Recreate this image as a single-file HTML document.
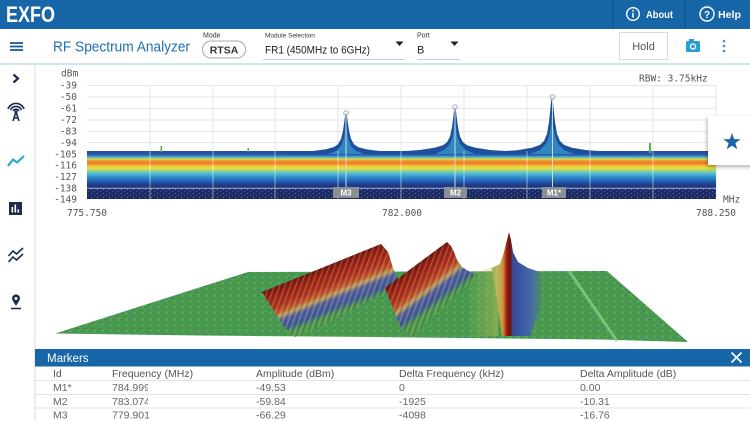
<!DOCTYPE html>
<html><head><meta charset="utf-8"><style>
html,body{margin:0;padding:0;background:#fff;width:750px;height:421px;overflow:hidden}
svg{display:block}
</style></head><body>
<svg width="750" height="421" viewBox="0 0 750 421" xmlns="http://www.w3.org/2000/svg">
<defs>
<linearGradient id="band" x1="0" y1="151" x2="0" y2="199" gradientUnits="userSpaceOnUse">
<stop offset="0" stop-color="#26489a"/>
<stop offset="0.083" stop-color="#2a5db0"/>
<stop offset="0.125" stop-color="#48b0d0"/>
<stop offset="0.167" stop-color="#d8dc48"/>
<stop offset="0.208" stop-color="#f09030"/>
<stop offset="0.26" stop-color="#ee7a22"/>
<stop offset="0.30" stop-color="#f3b838"/>
<stop offset="0.354" stop-color="#e8e048"/>
<stop offset="0.406" stop-color="#a8d868"/>
<stop offset="0.458" stop-color="#58c0d8"/>
<stop offset="0.542" stop-color="#3090d0"/>
<stop offset="0.625" stop-color="#2560b0"/>
<stop offset="0.708" stop-color="#1e3c8c"/>
<stop offset="0.81" stop-color="#1b2c70"/>
<stop offset="1" stop-color="#1c2a5c"/>
</linearGradient>
<pattern id="speck" width="6" height="4" patternUnits="userSpaceOnUse">
<rect x="1" y="1" width="1" height="1" fill="#8fa0c8" opacity=".7"/>
<rect x="4" y="3" width="1" height="1" fill="#5a6fb0" opacity=".8"/>
</pattern>
<pattern id="gr" width="8" height="6" patternUnits="userSpaceOnUse">
<rect width="8" height="6" fill="#4b9d4a"/>
<rect x="1" y="1" width="1.5" height="1.2" fill="#2c6cc4"/>
<rect x="5" y="3.5" width="1.2" height="1.2" fill="#2c6cc4" opacity=".8"/>
<rect x="3" y="4" width="1.5" height="1" fill="#3a8238"/>
<rect x="6" y="0.5" width="1.5" height="1" fill="#6cba5c"/>
</pattern>
<linearGradient id="r3" x1="262" y1="292" x2="280" y2="336.5" gradientUnits="userSpaceOnUse">
<stop offset="0" stop-color="#6e1006"/>
<stop offset="0.12" stop-color="#981a0c"/>
<stop offset="0.38" stop-color="#b4301a"/>
<stop offset="0.52" stop-color="#c45a2a"/>
<stop offset="0.60" stop-color="#c0a060"/>
<stop offset="0.70" stop-color="#5060a0"/>
<stop offset="0.86" stop-color="#3d5a9c"/>
<stop offset="1" stop-color="#4a9a4a"/>
</linearGradient>
<linearGradient id="r2" x1="385" y1="288" x2="411.7" y2="324.2" gradientUnits="userSpaceOnUse">
<stop offset="0" stop-color="#6e1006"/>
<stop offset="0.12" stop-color="#981a0c"/>
<stop offset="0.38" stop-color="#b4301a"/>
<stop offset="0.52" stop-color="#c45a2a"/>
<stop offset="0.60" stop-color="#c0a060"/>
<stop offset="0.70" stop-color="#5060a0"/>
<stop offset="0.86" stop-color="#3d5a9c"/>
<stop offset="1" stop-color="#4a9a4a"/>
</linearGradient>
<linearGradient id="r1" x1="485" y1="0" x2="545" y2="0" gradientUnits="userSpaceOnUse">
<stop offset="0" stop-color="#6aa450"/>
<stop offset="0.20" stop-color="#b8bc60"/>
<stop offset="0.30" stop-color="#d09040"/>
<stop offset="0.36" stop-color="#a02010"/>
<stop offset="0.42" stop-color="#6a1008"/>
<stop offset="0.46" stop-color="#3a4a98"/>
<stop offset="0.62" stop-color="#3a58a8"/>
<stop offset="0.80" stop-color="#4a70a0"/>
<stop offset="1" stop-color="#4a9a4a"/>
</linearGradient>
<linearGradient id="val" x1="465" y1="0" x2="500" y2="0" gradientUnits="userSpaceOnUse">
<stop offset="0" stop-color="#c8c050" stop-opacity="0"/>
<stop offset="1" stop-color="#c8c050" stop-opacity=".5"/>
</linearGradient>
<pattern id="streak" width="5" height="40" patternUnits="userSpaceOnUse" patternTransform="rotate(20)">
<rect x="0" y="0" width="1.2" height="40" fill="#e0c070" opacity=".35"/>
<rect x="2.5" y="0" width="1" height="40" fill="#2a3a80" opacity=".3"/>
</pattern>
<filter id="sh" x="-30%" y="-30%" width="160%" height="160%">
<feDropShadow dx="-1" dy="2" stdDeviation="2" flood-color="#000" flood-opacity=".3"/>
</filter>
<clipPath id="fc"><rect x="100" y="370" width="48" height="40"/></clipPath>
</defs>

<rect width="750" height="421" fill="#fff"/>

<!-- top bar -->
<rect x="0" y="0" width="750" height="29" fill="#1766a8"/>
<text x="6" y="22" font-family="Liberation Sans, sans-serif" font-weight="bold" font-size="22" fill="#fff" textLength="49" lengthAdjust="spacingAndGlyphs">EXFO</text>
<line x1="613" y1="0" x2="613" y2="29" stroke="#0f4d85" stroke-width="1"/>
<line x1="685" y1="0" x2="685" y2="29" stroke="#0f4d85" stroke-width="1"/>
<circle cx="633" cy="14" r="6.3" fill="none" stroke="#fff" stroke-width="1.4"/>
<circle cx="633" cy="10.8" r="0.9" fill="#fff"/>
<line x1="633" y1="12.8" x2="633" y2="17.6" stroke="#fff" stroke-width="1.5"/>
<text x="646" y="18" font-family="Liberation Sans, sans-serif" font-weight="bold" font-size="10.5" fill="#fff" textLength="27" lengthAdjust="spacingAndGlyphs">About</text>
<circle cx="707" cy="14" r="7" fill="none" stroke="#fff" stroke-width="1.4"/>
<text x="707" y="17.8" text-anchor="middle" font-family="Liberation Sans, sans-serif" font-weight="bold" font-size="10" fill="#fff">?</text>
<text x="718" y="18" font-family="Liberation Sans, sans-serif" font-weight="bold" font-size="10.5" fill="#fff" textLength="23" lengthAdjust="spacingAndGlyphs">Help</text>

<!-- toolbar -->
<line x1="0" y1="64" x2="750" y2="64" stroke="#b8d4ea" stroke-width="1.2"/>
<g stroke="#1a5a99" stroke-width="1.8">
<line x1="10" y1="43" x2="23" y2="43"/><line x1="10" y1="46.5" x2="23" y2="46.5"/><line x1="10" y1="50" x2="23" y2="50"/>
</g>
<text x="53" y="51.5" font-family="Liberation Sans, sans-serif" font-size="15" fill="#1e6fb1" textLength="137" lengthAdjust="spacingAndGlyphs">RF Spectrum Analyzer</text>
<text x="203" y="37.5" font-family="Liberation Sans, sans-serif" font-size="7" fill="#333">Mode</text>
<rect x="202.5" y="41" width="43" height="17" rx="8.5" fill="#fff" stroke="#aaa" stroke-width="1"/>
<text x="224" y="53.5" text-anchor="middle" font-family="Liberation Sans, sans-serif" font-weight="bold" font-size="10.5" fill="#333">RTSA</text>
<text x="265" y="37.5" font-family="Liberation Sans, sans-serif" font-size="6.5" fill="#333">Module Selection</text>
<text x="265" y="53.5" font-family="Liberation Sans, sans-serif" font-size="11" fill="#222" textLength="105" lengthAdjust="spacingAndGlyphs">FR1 (450MHz to 6GHz)</text>
<line x1="263" y1="59.5" x2="405" y2="59.5" stroke="#ccc" stroke-width="1"/>
<polygon points="395.5,41.5 403.5,41.5 399.5,46" fill="#222"/>
<text x="417" y="37.5" font-family="Liberation Sans, sans-serif" font-size="7" fill="#333">Port</text>
<text x="417" y="53.5" font-family="Liberation Sans, sans-serif" font-size="11" fill="#222">B</text>
<line x1="417" y1="59.5" x2="460" y2="59.5" stroke="#ccc" stroke-width="1"/>
<polygon points="450.5,41.5 458.5,41.5 454.5,46" fill="#222"/>
<rect x="619.5" y="32.5" width="48" height="27" fill="#fff" stroke="#ddd" stroke-width="1"/>
<text x="643.5" y="50" text-anchor="middle" font-family="Liberation Sans, sans-serif" font-size="11" fill="#555">Hold</text>
<rect x="686" y="41" width="14" height="11" rx="1.5" fill="#2a9fd6"/>
<rect x="689" y="39" width="5" height="3" fill="#2a9fd6"/>
<circle cx="693" cy="46.5" r="3.2" fill="#fff"/>
<circle cx="693" cy="46.5" r="1.9" fill="#2a9fd6"/>
<g fill="#3a9bc8"><circle cx="724" cy="41" r="1.3"/><circle cx="724" cy="46" r="1.3"/><circle cx="724" cy="51" r="1.3"/></g>

<!-- sidebar -->
<line x1="35" y1="64" x2="35" y2="421" stroke="#d8dee6" stroke-width="1"/>
<path d="M13.5,74.5 L18,78.5 L13.5,82.5" fill="none" stroke="#1a2a4a" stroke-width="2.2"/>
<g fill="none" stroke="#1a2a4a" stroke-width="1.6">
<path d="M13,111 A3.5,3.5 0 0 1 19,111"/>
<path d="M10.5,110 A6,6 0 0 1 21.5,110"/>
<path d="M8,109 A8.5,8.5 0 0 1 24,109"/>
<path d="M16,112 L13,121 M16,112 L19,121 M14,118 L18,118"/>
</g>
<circle cx="16" cy="112" r="1.6" fill="#1a2a4a"/>
<polyline points="8,166 13,159.5 17,162.5 24,156" fill="none" stroke="#2aa6d8" stroke-width="2.2"/>
<rect x="9" y="202" width="13" height="13" fill="#1e2b4a"/>
<rect x="11.5" y="207" width="1.6" height="5.5" fill="#fff"/>
<rect x="14.5" y="204.5" width="1.6" height="8" fill="#fff"/>
<rect x="17.5" y="209.5" width="1.6" height="3" fill="#fff"/>
<g fill="none" stroke="#1e2b4a" stroke-width="1.6">
<polyline points="8.5,256 13,251 16.5,254 23,248"/>
<polyline points="8.5,262 13,257 16.5,260 23,254"/>
</g>
<path d="M16,306 L12.6,300.5 A4,4 0 1 1 19.4,300.5 Z" fill="#1e2b4a"/>
<circle cx="16" cy="298.5" r="1.5" fill="#fff"/>
<line x1="11" y1="308.5" x2="21" y2="308.5" stroke="#1e2b4a" stroke-width="1.6"/>

<!-- chart -->
<g font-family="DejaVu Sans Mono, Liberation Mono, monospace" font-size="9.5" fill="#555">
<text x="61" y="76.5">dBm</text>
<g text-anchor="end">
<text x="77" y="88.5">-39</text>
<text x="77" y="100">-50</text>
<text x="77" y="111.5">-61</text>
<text x="77" y="123">-72</text>
<text x="77" y="134.5">-83</text>
<text x="77" y="145.8">-94</text>
<text x="77" y="157.3">-105</text>
<text x="77" y="168.7">-116</text>
<text x="77" y="180.1">-127</text>
<text x="77" y="191.3">-138</text>
<text x="77" y="202.7">-149</text>
</g>
<text x="639" y="81.5">RBW: 3.75kHz</text>
<text x="723" y="202.5">MHz</text>
<text x="87" y="216" text-anchor="middle">775.750</text>
<text x="402" y="216" text-anchor="middle">782.000</text>
<text x="716" y="216" text-anchor="middle">788.250</text>
</g>
<g stroke="#e6e6e6" stroke-width="1">
<line x1="87" y1="85.5" x2="716" y2="85.5"/>
<line x1="87" y1="97" x2="716" y2="97"/>
<line x1="87" y1="108.5" x2="716" y2="108.5"/>
<line x1="87" y1="120" x2="716" y2="120"/>
<line x1="87" y1="131.5" x2="716" y2="131.5"/>
<line x1="87" y1="142.5" x2="716" y2="142.5"/>
<line x1="150" y1="85" x2="150" y2="199"/>
<line x1="213" y1="85" x2="213" y2="199"/>
<line x1="275" y1="85" x2="275" y2="199"/>
<line x1="338" y1="85" x2="338" y2="199"/>
<line x1="401" y1="85" x2="401" y2="199"/>
<line x1="464" y1="85" x2="464" y2="199"/>
<line x1="527" y1="85" x2="527" y2="199"/>
<line x1="590" y1="85" x2="590" y2="199"/>
<line x1="653" y1="85" x2="653" y2="199"/>
<line x1="716" y1="85" x2="716" y2="199"/>
</g>
<!-- band -->
<rect x="87" y="151" width="629" height="48" fill="url(#band)"/>
<rect x="87" y="188" width="629" height="11" fill="url(#speck)"/>
<!-- skirts -->
<g fill="#1e4f9c">
<polygon points="462,154 462,152.4 492,151.8 517,150.3 532,147.7 540,144.9 544,141 547,133.9 549,122 550,112.4 551,102 552,97 553,102 554,112.4 555,122 557,133.9 560,141 564,144.9 572,147.7 587,150.3 612,151.8 642,152.4 642,154"/>
<polygon points="365,154 365,152.4 395,151.7 420,150 435,147.6 443,145.3 447,142.3 450,136.5 452,127 453,119.3 454,111 455,107 456,111 457,119.3 458,127 460,136.5 463,142.3 467,145.3 475,147.6 490,150 515,151.7 545,152.4 545,154"/>
<polygon points="286,154 286,152.3 311,151.3 326,149.3 334,147 338,144.2 341,138.9 343,130.6 344,123.8 345,116.5 346,113 347,116.5 348,123.8 349,130.6 351,138.9 354,144.2 358,147 366,149.3 381,151.3 406,152.3 406,154"/>
</g>
<g fill="#2f86c0">
<polygon points="530,154 540,150 546,144 549,136 551,125 552,110 553,125 555,136 558,144 564,150 574,154"/>
<polygon points="435,154 444,150 450,144 453,136 455,118 457,136 460,144 466,150 475,154"/>
<polygon points="328,154 336,151 341,146 344,138 346,122 348,138 351,146 356,151 364,154"/>
</g>
<!-- small spurs -->
<rect x="649" y="143" width="2" height="10" fill="#5ab04a"/>
<rect x="160.5" y="146" width="1.5" height="6" fill="#5ab04a"/>
<rect x="247.5" y="148" width="1.5" height="4" fill="#5ab04a"/>
<!-- band overlay grid -->
<g stroke="#fff" stroke-width="1" opacity=".5">
<line x1="150" y1="151" x2="150" y2="199"/>
<line x1="213" y1="151" x2="213" y2="199"/>
<line x1="275" y1="151" x2="275" y2="199"/>
<line x1="338" y1="151" x2="338" y2="199"/>
<line x1="401" y1="151" x2="401" y2="199"/>
<line x1="464" y1="151" x2="464" y2="199"/>
<line x1="527" y1="151" x2="527" y2="199"/>
<line x1="590" y1="151" x2="590" y2="199"/>
<line x1="653" y1="151" x2="653" y2="199"/>
</g>
<line x1="87" y1="188.3" x2="716" y2="188.3" stroke="#b0b0b0" stroke-width="1"/>
<!-- marker lines -->
<g stroke="#cfd8dc" stroke-width="1">
<line x1="346" y1="115" x2="346" y2="188"/>
<line x1="455" y1="109" x2="455" y2="188"/>
<line x1="552.5" y1="99" x2="552.5" y2="188"/>
</g>
<g fill="none" stroke="#aaa" stroke-width="1">
<circle cx="346" cy="113" r="2.3"/>
<circle cx="455" cy="107" r="2.3"/>
<circle cx="552.5" cy="97" r="2.3"/>
</g>
<g font-family="Liberation Sans, sans-serif" font-weight="bold" font-size="8" fill="#fff" text-anchor="middle">
<rect x="333" y="187" width="26" height="11" fill="#8a8f94"/>
<text x="346" y="195.5">M3</text>
<rect x="444" y="187" width="23" height="11" fill="#8a8f94"/>
<text x="455.5" y="195.5">M2</text>
<rect x="542" y="187" width="24" height="11" fill="#8a8f94"/>
<text x="554" y="195.5">M1*</text>
</g>

<!-- star card -->
<rect x="708" y="116" width="46" height="49" fill="#fff" filter="url(#sh)"/>
<polygon points="732,133 734.12,139.09 740.56,139.22 735.42,143.11 737.29,149.28 732,145.6 726.71,149.28 728.58,143.11 723.44,139.22 729.88,139.09" fill="#1a66a8"/>

<!-- 3D waterfall -->
<polygon points="55,333.5 248,272 607,271 688,342 600,339.5 375,337 200,335.5" fill="url(#gr)"/>
<polygon points="468,274 490,268 500,264 498,336 468,337" fill="url(#val)"/>
<line x1="569" y1="271" x2="617" y2="341" stroke="#80d080" stroke-width="3" opacity=".8"/>
<polygon points="262,292 381,244 388,252 393,268 400,284 330,322 295,337 285,328 272,308" fill="url(#r3)"/>
<polygon points="262,292 381,244 388,252 393,268 400,284 330,322 295,337 285,328 272,308" fill="url(#streak)"/>
<polygon points="385,288 447,242 451,246 454,252 457,260 462,267 470,272 478,276 440,310 412,337 400,326 392,306" fill="url(#r2)"/>
<polygon points="385,288 447,242 451,246 454,252 457,260 462,267 470,272 478,276 440,310 412,337 400,326 392,306" fill="url(#streak)"/>
<polygon points="492,268 500,264 504,252 507,240 509,232 511,240 513,252 518,262 528,268 540,272 543,300 530,336 502,336 497,300" fill="url(#r1)"/>

<!-- markers table -->
<rect x="35" y="349" width="715" height="17.5" fill="#1766a8"/>
<text x="47" y="362" font-family="Liberation Sans, sans-serif" font-size="11.5" fill="#fff">Markers</text>
<g stroke="#fff" stroke-width="1.7"><line x1="731.5" y1="352.5" x2="741.5" y2="362.5"/><line x1="741.5" y1="352.5" x2="731.5" y2="362.5"/></g>
<g stroke="#e3e3e3" stroke-width="1">
<line x1="35" y1="380.5" x2="750" y2="380.5"/>
<line x1="35" y1="394.5" x2="750" y2="394.5"/>
<line x1="35" y1="408" x2="750" y2="408"/>
</g>
<g font-family="Liberation Sans, sans-serif" font-size="10.5" fill="#555">
<text x="53" y="377">Id</text>
<text x="112" y="377">Frequency (MHz)</text>
<text x="256" y="377">Amplitude (dBm)</text>
<text x="399" y="377">Delta Frequency (kHz)</text>
<text x="580" y="377">Delta Amplitude (dB)</text>
</g>
<g font-family="Liberation Sans, sans-serif" font-size="10.5" fill="#666">
<text x="53" y="391">M1*</text>
<text x="112" y="391" clip-path="url(#fc)">784.999</text>
<text x="256" y="391">-49.53</text>
<text x="399" y="391">0</text>
<text x="580" y="391">0.00</text>
<text x="53" y="405">M2</text>
<text x="112" y="405" clip-path="url(#fc)">783.074</text>
<text x="256" y="405">-59.84</text>
<text x="399" y="405">-1925</text>
<text x="580" y="405">-10.31</text>
<text x="53" y="418.5">M3</text>
<text x="112" y="418.5">779.901</text>
<text x="256" y="418.5">-66.29</text>
<text x="399" y="418.5">-4098</text>
<text x="580" y="418.5">-16.76</text>
</g>
</svg>
</body></html>
